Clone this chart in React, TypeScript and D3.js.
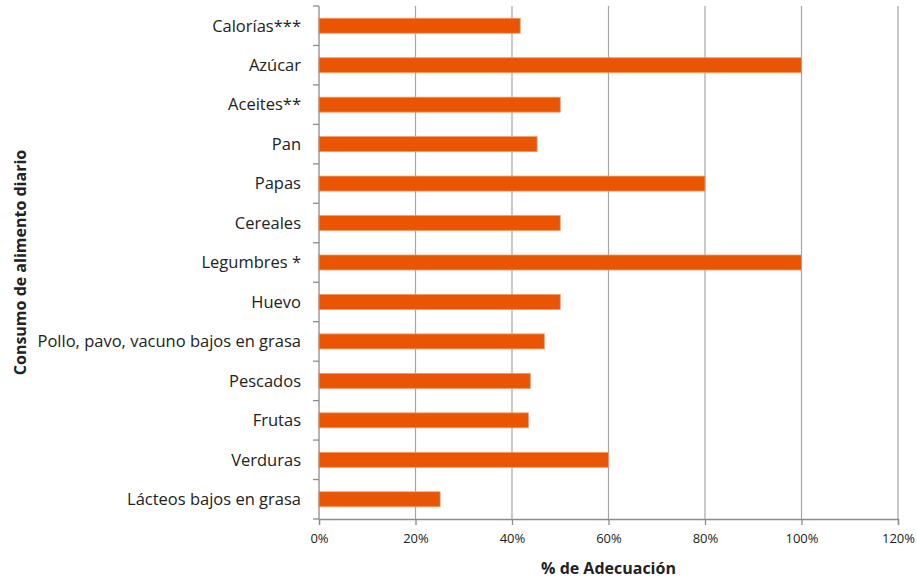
import React, { useEffect, useRef } from 'react';
import * as d3 from 'd3';

const categories = [
  'Calorías***',
  'Azúcar',
  'Aceites**',
  'Pan',
  'Papas',
  'Cereales',
  'Legumbres *',
  'Huevo',
  'Pollo, pavo, vacuno bajos en grasa',
  'Pescados',
  'Frutas',
  'Verduras',
  'Lácteos bajos en grasa',
];
const values = [41.7, 100, 50, 45.2, 80, 50, 100, 50, 46.7, 43.8, 43.4, 60, 25.1];
const xTicks = [0, 20, 40, 60, 80, 100, 120];

const W = 917;
const H = 579;

const App: React.FC = () => {
  const svgRef = useRef<SVGSVGElement>(null);

  useEffect(() => {
    if (!svgRef.current) return;
    const svg = d3.select(svgRef.current);
    svg.selectAll('*').remove();

    const margin = { top: 6, right: 19, bottom: 60, left: 319 };
    const innerW = W - margin.left - margin.right;
    const innerH = H - margin.top - margin.bottom;
    const font = '"Open Sans", "Noto Sans", sans-serif';

    const x = d3.scaleLinear().domain([0, 120]).range([0, innerW]);
    const y = d3.scaleBand().domain(categories).range([0, innerH]).paddingInner(0.62).paddingOuter(0.31);

    const g = svg.append('g').attr('transform', `translate(${margin.left},${margin.top})`);

    // vertical gridlines
    g.selectAll('line.grid')
      .data(xTicks.slice(1))
      .join('line')
      .attr('class', 'grid')
      .attr('x1', d => x(d))
      .attr('x2', d => x(d))
      .attr('y1', 0)
      .attr('y2', innerH)
      .attr('stroke', '#a6a6a6')
      .attr('stroke-width', 1.2);

    // bars
    g.selectAll('rect.bar')
      .data(categories)
      .join('rect')
      .attr('class', 'bar')
      .attr('x', 0)
      .attr('y', d => y(d) || 0)
      .attr('width', (d, i) => x(values[i]))
      .attr('height', y.bandwidth())
      .attr('fill', '#ea5504')
      .attr('stroke', '#f59a6a')
      .attr('stroke-width', 0.8);

    // x axis
    const xAxis = g.append('g')
      .attr('transform', `translate(0,${innerH})`)
      .call(d3.axisBottom(x).tickValues(xTicks).tickSize(6).tickPadding(9).tickFormat(d => `${d}%`));
    xAxis.select('.domain').attr('stroke', '#8c8c8c').attr('stroke-width', 1.3);
    xAxis.selectAll('.tick line').attr('stroke', '#8c8c8c').attr('stroke-width', 1.3);
    xAxis.selectAll('.tick text')
      .attr('font-family', font)
      .attr('font-size', '13px')
      .attr('fill', '#222');

    // y axis: ticks at category boundaries
    const boundaries = d3.range(categories.length + 1).map(i => i * y.step());
    const yAxisG = g.append('g');
    yAxisG.append('line')
      .attr('x1', 0).attr('x2', 0).attr('y1', 0).attr('y2', innerH)
      .attr('stroke', '#8c8c8c').attr('stroke-width', 1.3);
    yAxisG.selectAll('line.yt')
      .data(boundaries)
      .join('line')
      .attr('class', 'yt')
      .attr('x1', -6).attr('x2', 0)
      .attr('y1', d => d).attr('y2', d => d)
      .attr('stroke', '#8c8c8c').attr('stroke-width', 1.3);
    yAxisG.selectAll('text.ylab')
      .data(categories)
      .join('text')
      .attr('class', 'ylab')
      .attr('x', -18)
      .attr('y', d => (y(d) || 0) + y.bandwidth() / 2)
      .attr('dy', '0.35em')
      .attr('text-anchor', 'end')
      .attr('font-family', font)
      .attr('font-size', '16.5px')
      .attr('fill', '#222')
      .text(d => d);

    // axis titles
    svg.append('text')
      .attr('x', margin.left + innerW / 2)
      .attr('y', 574)
      .attr('text-anchor', 'middle')
      .attr('font-family', font)
      .attr('font-size', '16px')
      .attr('font-weight', 'bold')
      .attr('fill', '#222')
      .text('% de Adecuación');

    svg.append('text')
      .attr('transform', `translate(26,${margin.top + innerH / 2}) rotate(-90)`)
      .attr('text-anchor', 'middle')
      .attr('font-family', font)
      .attr('font-size', '16px')
      .attr('font-weight', 'bold')
      .attr('fill', '#222')
      .text('Consumo de alimento diario');
  }, []);

  return (
    <svg
      ref={svgRef}
      width={W}
      height={H}
      style={{ position: 'absolute', left: 0, top: 0, background: '#fff' }}
    />
  );
};

export default App;
